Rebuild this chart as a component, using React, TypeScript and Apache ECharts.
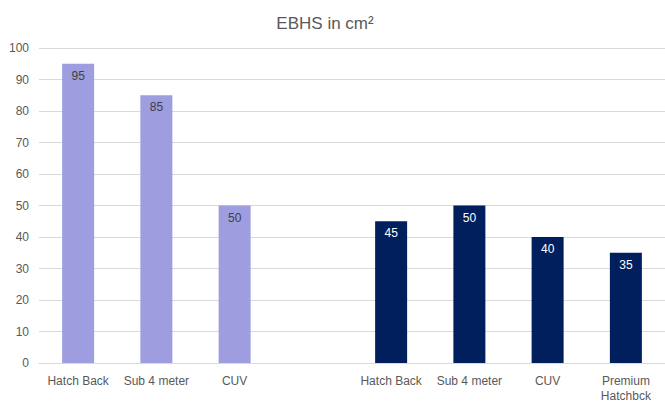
import React, { useEffect, useRef } from "react";
import * as echarts from "echarts";

const categories = ["Hatch Back", "Sub 4 meter", "CUV", "", "Hatch Back", "Sub 4 meter", "CUV", "Premium\nHatchbck"];
const group1Values = [95, 85, 50, null, null, null, null, null];
const group2Values = [null, null, null, null, 45, 50, 40, 35];
const yTicks = { min: 0, max: 100, interval: 10 };

const FONT = "'Liberation Sans', Arial, sans-serif";

export default function App() {
  const ref = useRef<HTMLDivElement>(null);
  useEffect(() => {
    if (!ref.current) return;
    const chart = echarts.init(ref.current, undefined, { renderer: "svg" });
    chart.setOption({
      animation: false,
      textStyle: { fontFamily: FONT },
      title: {
        text: "EBHS in cm²",
        left: 320,
        textAlign: "center",
        top: 10,
        textStyle: { fontFamily: FONT, fontSize: 17, fontWeight: "normal", color: "#595959" },
      },
      grid: { left: 39, right: -3, top: 48, bottom: 39, containLabel: false },
      xAxis: {
        type: "category",
        data: categories,
        axisLine: { show: true, lineStyle: { color: "#d9d9d9", width: 1 } },
        axisTick: { show: false },
        axisLabel: {
          interval: 0,
          color: "#595959",
          fontFamily: FONT,
          fontSize: 12,
          margin: 10,
          lineHeight: 15,
        },
      },
      yAxis: {
        type: "value",
        min: yTicks.min,
        max: yTicks.max,
        interval: yTicks.interval,
        axisLine: { show: false },
        axisTick: { show: false },
        splitLine: { lineStyle: { color: "#d9d9d9", width: 1 } },
        axisLabel: { color: "#595959", fontFamily: FONT, fontSize: 12, margin: 10 },
      },
      series: [
        {
          type: "bar",
          data: group1Values,
          barWidth: 32,
          barGap: "-100%",
          itemStyle: { color: "#9d9ddf" },
          label: {
            show: true,
            position: "insideTop",
            distance: 6,
            color: "#404040",
            fontFamily: FONT,
            fontSize: 12,
          },
        },
        {
          type: "bar",
          data: group2Values,
          barWidth: 32,
          barGap: "-100%",
          itemStyle: { color: "#001f5c" },
          label: {
            show: true,
            position: "insideTop",
            distance: 6,
            color: "#ffffff",
            fontFamily: FONT,
            fontSize: 12,
          },
        },
      ],
    });
    return () => chart.dispose();
  }, []);
  return <div ref={ref} style={{ width: 665, height: 403, position: "absolute", left: 0, top: 0 }} />;
}
